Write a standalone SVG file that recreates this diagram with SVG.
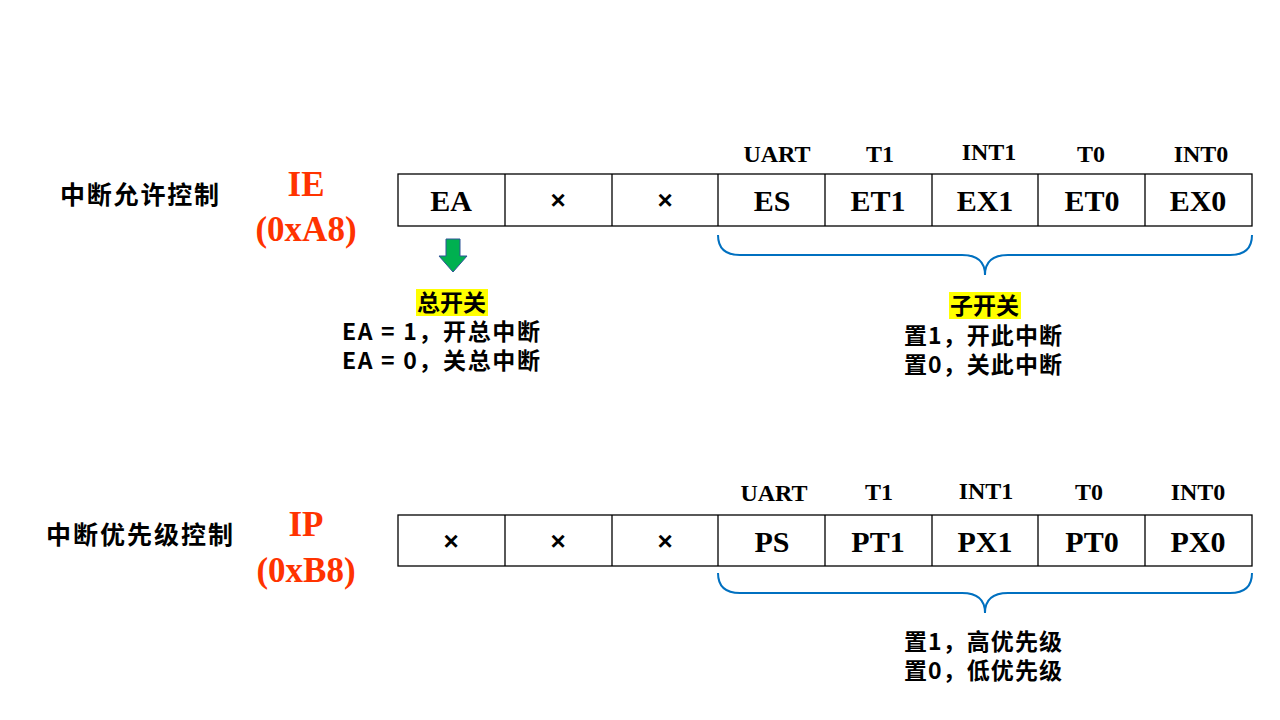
<svg xmlns="http://www.w3.org/2000/svg" width="1280" height="720" viewBox="0 0 1280 720">
<style>
.c{fill:#fff;stroke:#000;stroke-width:1.3}
.t{font-family:"Liberation Serif",serif;font-weight:bold;font-size:30px;text-anchor:middle}
.s{font-family:"Liberation Serif",serif;font-weight:bold;font-size:24px;text-anchor:middle}
.x{font-family:"Liberation Sans",sans-serif;font-weight:bold;font-size:26px;text-anchor:middle}
.r{font-family:"Liberation Serif",serif;font-weight:bold;font-size:35px;text-anchor:middle;fill:#ff3300}
.z{font-family:"Noto Sans CJK SC",sans-serif;font-weight:bold;font-size:23px}
.b{fill:none;stroke:#0070c0;stroke-width:2}
</style>
<rect width="1280" height="720" fill="#fff"/>
<g id="ie">
<text class="z" x="60" y="204" textLength="159" style="font-size:25px">中断允许控制</text>
<text class="r" x="306" y="196">IE</text>
<text class="r" x="306" y="241">(0xA8)</text>
<rect class="c" x="398" y="174" width="854" height="52"/>
<path d="M505 174V226M612 174V226M718 174V226M825 174V226M932 174V226M1038 174V226M1145 174V226" stroke="#000" stroke-width="1.3"/>
<text class="t" x="451" y="211">EA</text>
<text class="x" x="558" y="209">×</text>
<text class="x" x="665" y="209">×</text>
<text class="t" x="772" y="211">ES</text>
<text class="t" x="878" y="211">ET1</text>
<text class="t" x="985" y="211">EX1</text>
<text class="t" x="1092" y="211">ET0</text>
<text class="t" x="1198" y="211">EX0</text>
<text class="s" x="777" y="162">UART</text>
<text class="s" x="880" y="162">T1</text>
<text class="s" x="989" y="160">INT1</text>
<text class="s" x="1091" y="162">T0</text>
<text class="s" x="1201" y="162">INT0</text>
</g>
<g id="ea-note">
<rect x="416" y="289" width="72" height="27" fill="#ffff00"/>
<text class="z" x="417" y="311">总开关</text>
<text class="z" x="342" y="340" textLength="198">EA = 1，开总中断</text>
<text class="z" x="342" y="369" textLength="198">EA = 0，关总中断</text>
</g>
<g id="sub-note">
<rect x="949" y="292" width="72" height="27" fill="#ffff00"/>
<text class="z" x="950" y="314">子开关</text>
<text class="z" x="904" y="344" textLength="158">置1，开此中断</text>
<text class="z" x="904" y="373" textLength="158">置0，关此中断</text>
</g>
<g id="ip">
<text class="z" x="46" y="544" textLength="187" style="font-size:25px">中断优先级控制</text>
<text class="r" x="306" y="536">IP</text>
<text class="r" x="306" y="582">(0xB8)</text>
<rect class="c" x="398" y="515" width="854" height="51"/>
<path d="M505 515V566M612 515V566M718 515V566M825 515V566M932 515V566M1038 515V566M1145 515V566" stroke="#000" stroke-width="1.3"/>
<text class="x" x="451" y="550">×</text>
<text class="x" x="558" y="550">×</text>
<text class="x" x="665" y="550">×</text>
<text class="t" x="772" y="552">PS</text>
<text class="t" x="878" y="552">PT1</text>
<text class="t" x="985" y="552">PX1</text>
<text class="t" x="1092" y="552">PT0</text>
<text class="t" x="1198" y="552">PX0</text>
<text class="s" x="774" y="501">UART</text>
<text class="s" x="879" y="500">T1</text>
<text class="s" x="986" y="499">INT1</text>
<text class="s" x="1089" y="500">T0</text>
<text class="s" x="1198" y="500">INT0</text>
</g>
<g id="ip-note">
<text class="z" x="904" y="650" textLength="158">置1，高优先级</text>
<text class="z" x="904" y="679" textLength="158">置0，低优先级</text>
</g>
<g id="connectors">
<path d="M446 239H460V256H467L453 272L439 256H446Z" fill="#00b050" stroke="#2f5597" stroke-width="1"/>
<path class="b" d="M718 235Q718 255 740 255H962Q985 255 985 275Q985 255 1008 255H1230Q1252 255 1252 235"/>
<path class="b" d="M718 573Q718 593 740 593H962Q985 593 985 613Q985 593 1008 593H1230Q1252 593 1252 573"/>
</g>
</svg>
